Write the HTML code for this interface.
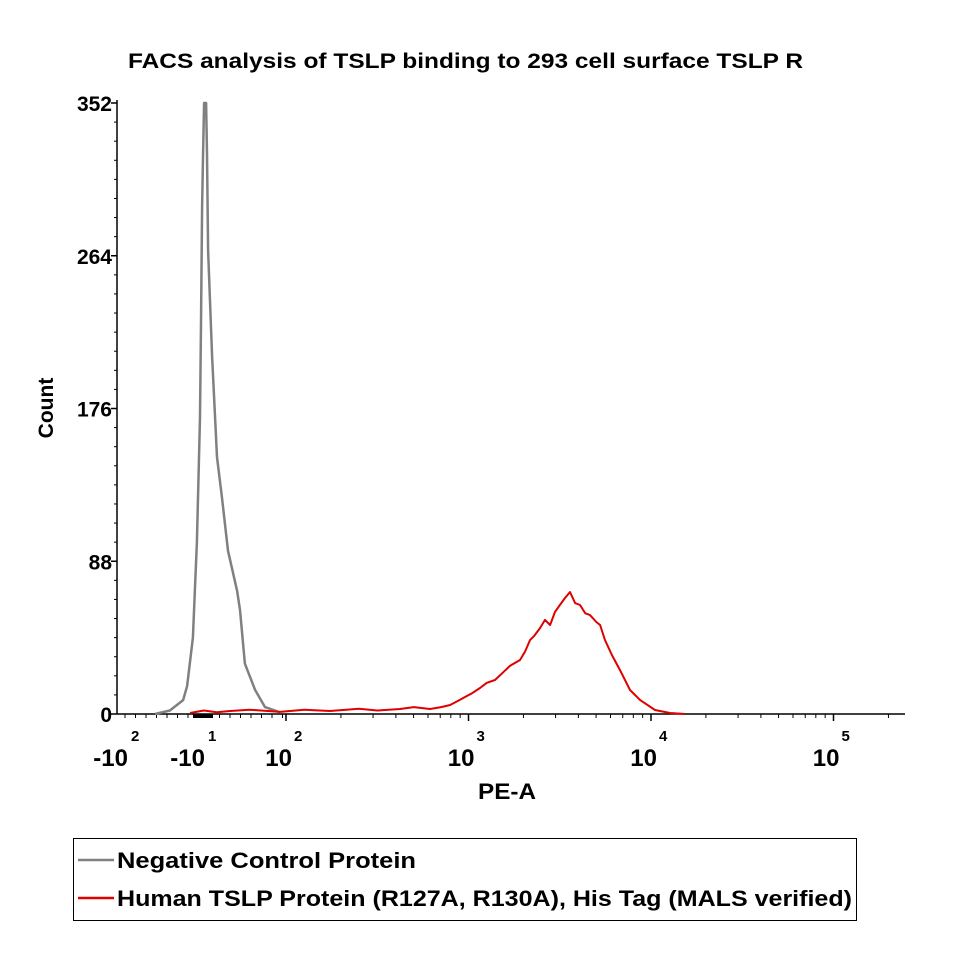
<!DOCTYPE html>
<html><head><meta charset="utf-8"><style>
body{margin:0;background:#fff;}
svg text{font-family:"Liberation Sans",sans-serif;font-weight:bold;fill:#000;}
</style></head><body>
<svg id="chart" width="960" height="960" xmlns="http://www.w3.org/2000/svg">
<text x="128" y="68" font-size="21" textLength="675" lengthAdjust="spacingAndGlyphs">FACS analysis of  TSLP binding to 293 cell surface TSLP R</text>
<g id="axes"></g>
<g id="series"></g>
<text x="478" y="799" font-size="22" textLength="58" lengthAdjust="spacingAndGlyphs">PE-A</text>
<text x="0" y="0" font-size="21" text-anchor="middle" transform="translate(53,408) rotate(-90)">Count</text>
<g>
<rect x="73.5" y="838.5" width="783" height="82" fill="#fff" stroke="#000" stroke-width="1"/>
<line x1="78" y1="860" x2="114" y2="860" stroke="#808080" stroke-width="2.5"/>
<text x="117" y="868" font-size="22" textLength="299" lengthAdjust="spacingAndGlyphs">Negative Control Protein</text>
<line x1="78" y1="898" x2="114" y2="898" stroke="#e00000" stroke-width="2.5"/>
<text x="117" y="906" font-size="22" textLength="735" lengthAdjust="spacingAndGlyphs">Human TSLP Protein (R127A, R130A), His Tag (MALS verified)</text>
</g>
</svg>
<script>
// decade-coordinate (display) x values and counts
const grayX=[1.282,1.364,1.436,1.458,1.490,1.512,1.529,1.534,1.540,1.545,1.551,1.562,1.567,1.573,1.595,1.622,1.649,1.682,1.732,1.748,1.775,1.830,1.885,1.967];
const grayY=[0,2,8,16,44,99,171,225,292,321,352,352,323,267,206,148,125,94,71,60,29,14,4,1];
const redX=[1.474,1.55,1.62,1.693,1.80,1.967,2.1,2.241,2.4,2.5,2.625,2.7,2.789,2.85,2.899,2.95,2.981,3.02,3.063,3.10,3.145,3.19,3.227,3.282,3.31,3.337,3.36,3.392,3.419,3.447,3.474,3.501,3.529,3.556,3.584,3.611,3.64,3.666,3.70,3.721,3.748,3.786,3.830,3.885,3.940,4.022,4.104,4.186];
const redY=[0.6,2,1,1.7,2.5,1.2,2.5,1.7,3,2,2.9,4,2.9,4,5.2,8,9.8,12,15,18,19.6,24,27.7,31.1,36,42.6,45,49.5,54.2,51.3,58.8,62.8,66.8,70.3,63.9,62.8,58,57,53,51.3,42.6,34,25.3,13.8,8.1,2.3,0.6,0];
const yTicks=[0,88,176,264,352];
const xMajor=[2,3,4,5];
const xNegLabels=[{pos:1.145,exp:"2"},{pos:1.567,exp:"1"}];

const X0=286,DEC=182.5,YB=714,YT=103,YMAX=352,XL=117,XR=905;
function xs(d){return X0+(d-2)*DEC;}
function ys(c){return YB-(c/YMAX)*(YB-YT);}
const NS="http://www.w3.org/2000/svg";
function mk(tag,attrs,parent){const e=document.createElementNS(NS,tag);for(const k in attrs)e.setAttribute(k,attrs[k]);parent.appendChild(e);return e;}
const ax=document.getElementById('axes');
let l=mk('line',{x1:XL,y1:YT-3,x2:XL,y2:YB,stroke:'#000','stroke-width':1.5},ax);


l=mk('line',{x1:XL,y1:YB,x2:XR,y2:YB,stroke:'#000','stroke-width':1.5},ax);


yTicks.forEach(v=>{
  const y=ys(v);
  mk('line',{x1:XL-6,y1:y,x2:XL,y2:y,stroke:'#000','stroke-width':1.5},ax);
  const t=mk('text',{x:XL-5,y:y+8,'font-size':21,'text-anchor':'end'},ax);
  t.textContent=v;
  
  
});
for(let i=0;i<yTicks.length-1;i++){
  for(let k=1;k<8;k++){const y=ys(yTicks[i]+(yTicks[i+1]-yTicks[i])*k/8);mk('line',{x1:XL-3,y1:y,x2:XL,y2:y,stroke:'#000','stroke-width':1},ax);}
}
for(let x=XL+8;x<X0;x+=10.5){mk('line',{x1:x,y1:YB,x2:x,y2:YB+4,stroke:'#000','stroke-width':1},ax);}
for(let dec=2;dec<=5;dec++){
  for(let m=1;m<10;m++){
    const d=dec+Math.log10(m);const x=xs(d);if(x>XR)break;
    mk('line',{x1:x,y1:YB,x2:x,y2:YB+(m===1?7:4),stroke:'#000','stroke-width':m===1?1.5:1},ax);
  }
}
xMajor.forEach(d=>{
  const x=xs(d);
  const t=mk('text',{x:x+6,y:766,'font-size':24,'text-anchor':'end'},ax);t.textContent='10';
  
  
  const s=mk('text',{x:x+8,y:741,'font-size':15},ax);s.textContent=d;
});
xNegLabels.forEach(o=>{
  const x=xs(o.pos);
  const t=mk('text',{x:x-2,y:766,'font-size':24,'text-anchor':'end'},ax);t.textContent='-10';
  
  
  const s=mk('text',{x:x+1,y:741,'font-size':15},ax);s.textContent=o.exp;
});
mk('rect',{x:193,y:714,width:20,height:4,fill:'#000'},ax);
const sg=document.getElementById('series');
function path(xa,ya){return xa.map((d,i)=>(i?'L':'M')+xs(d).toFixed(1)+','+ys(ya[i]).toFixed(1)).join(' ');}
let p=mk('path',{d:path(grayX,grayY),fill:'none',stroke:'#808080','stroke-width':2.5,'stroke-linejoin':'round'},sg);


p=mk('path',{d:path(redX,redY),fill:'none',stroke:'#e00000','stroke-width':2,'stroke-linejoin':'round'},sg);


</script>
</body></html>
